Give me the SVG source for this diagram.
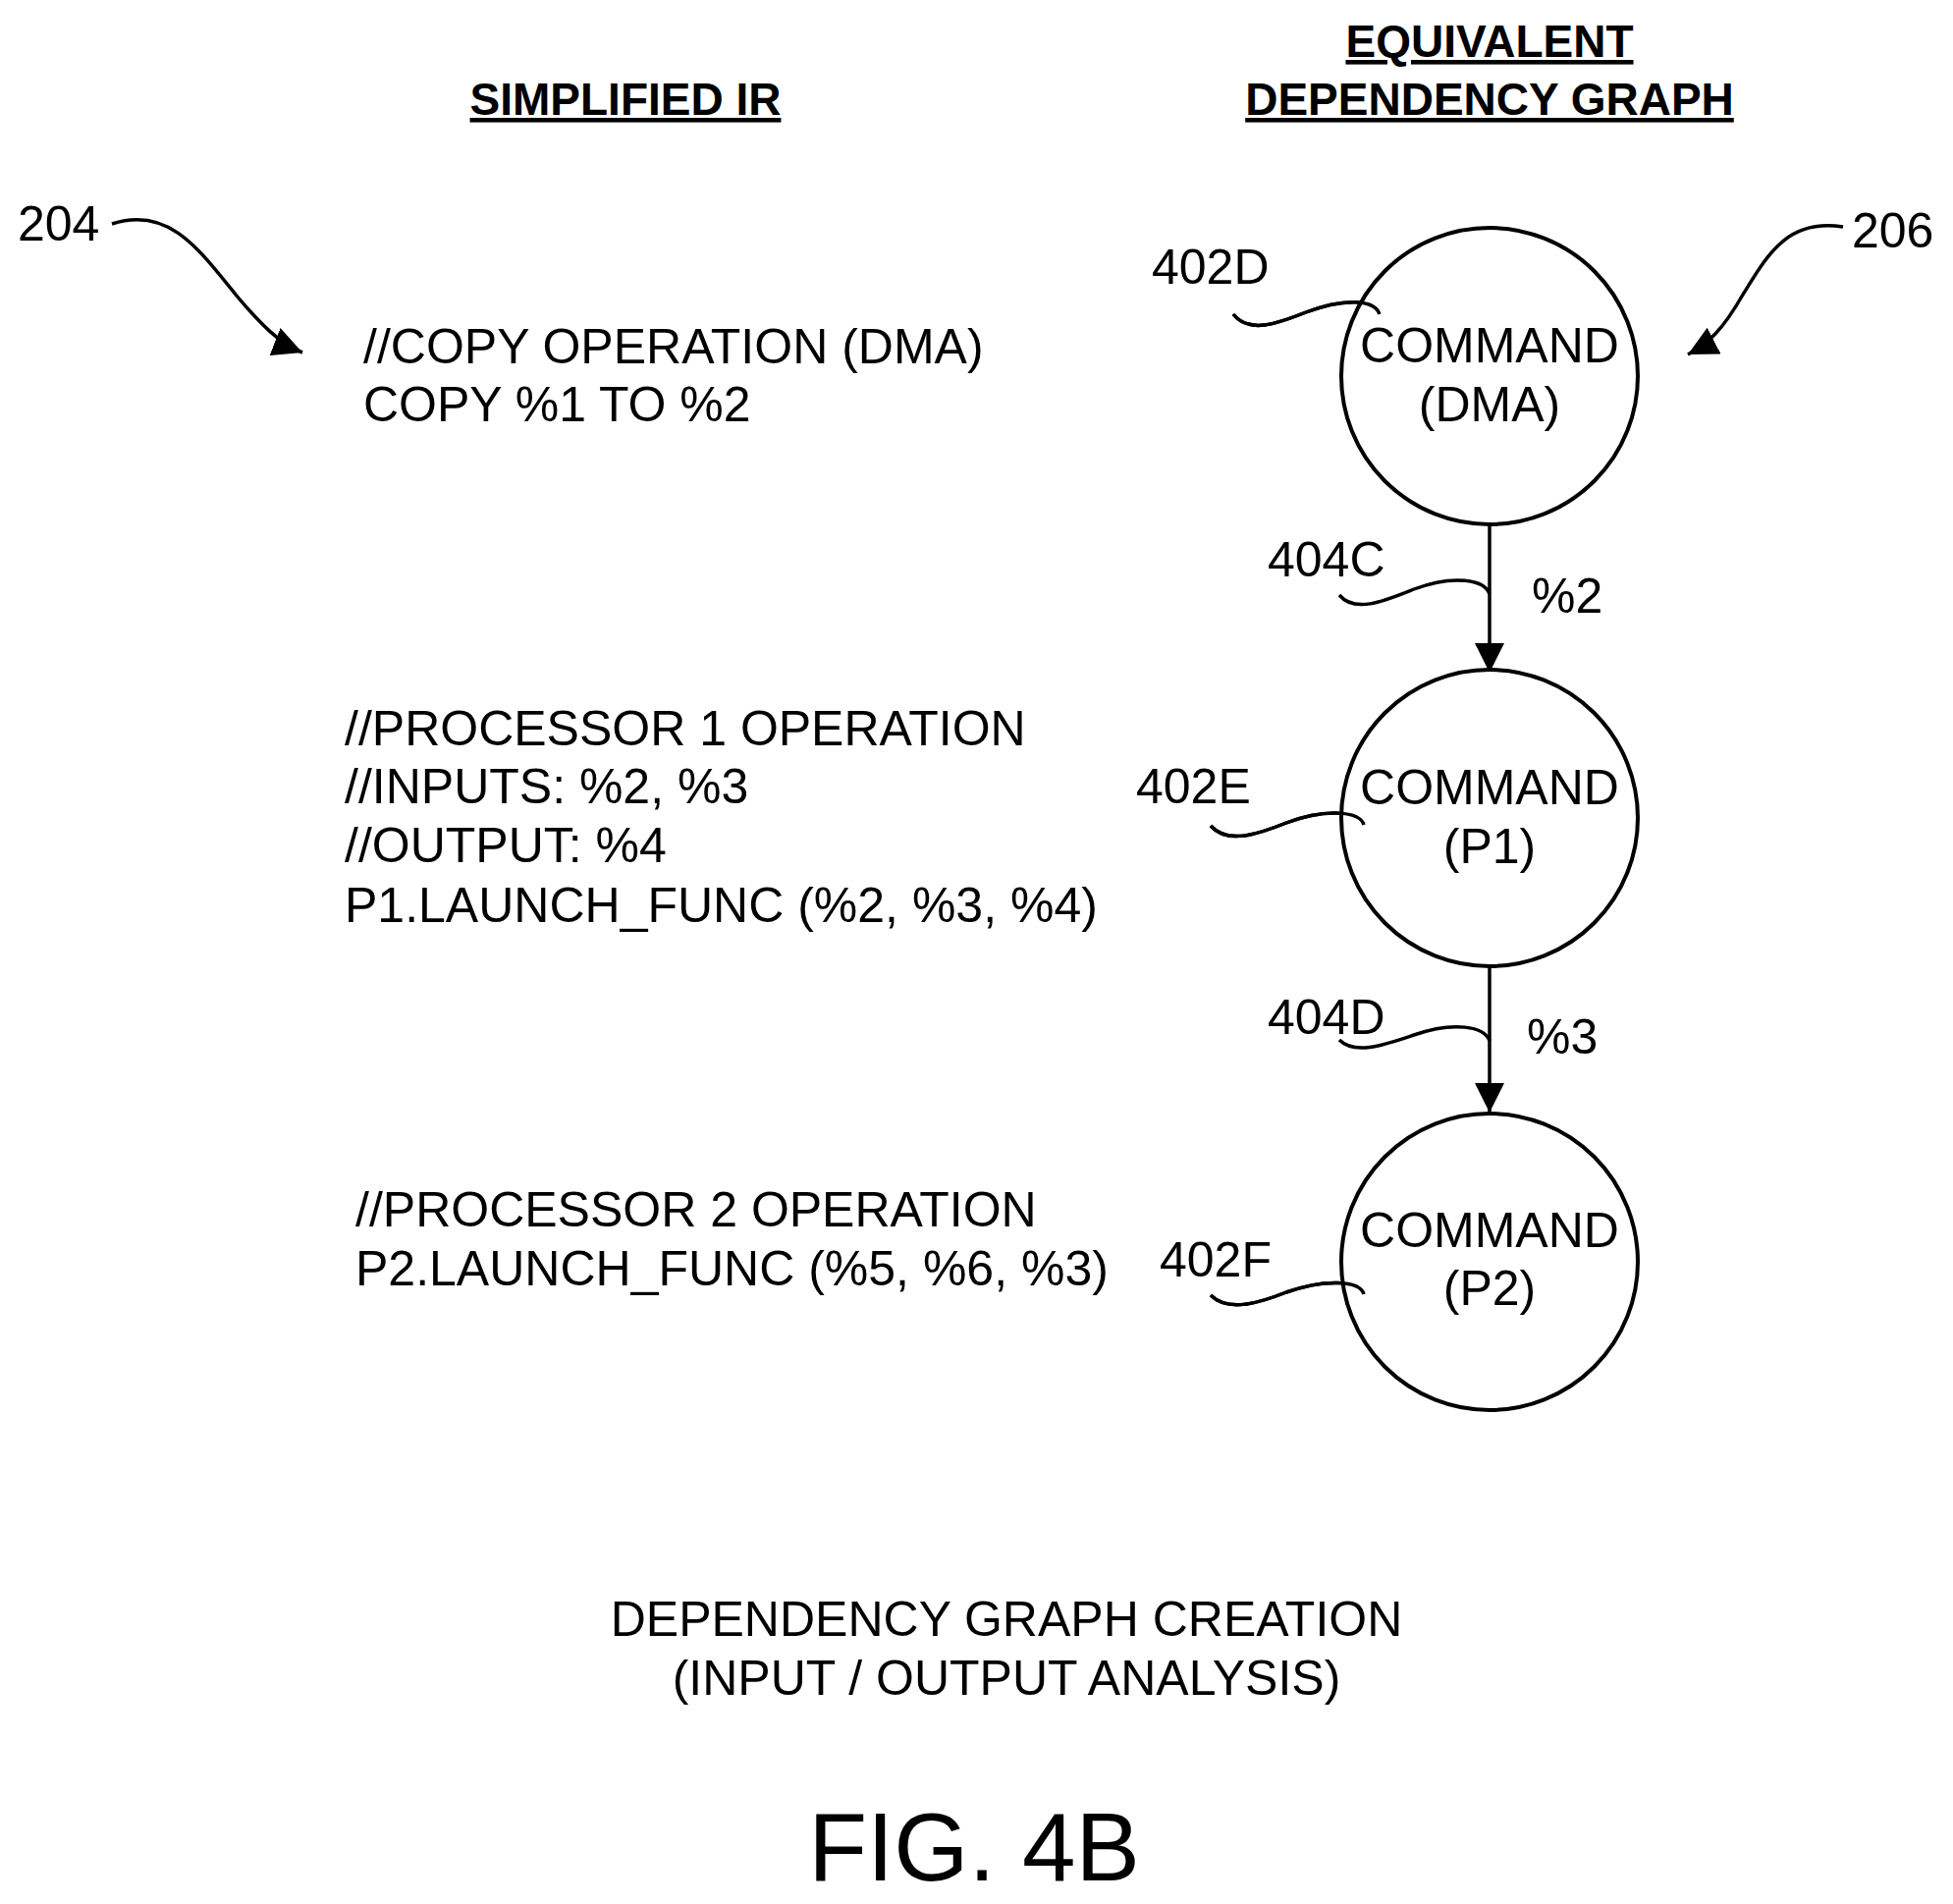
<svg xmlns="http://www.w3.org/2000/svg" width="1989" height="1939" viewBox="0 0 1989 1939">
<defs>
<style>
text{font-family:"Liberation Sans",Arial,sans-serif;fill:#000}
.t{font-size:50px}
.c{font-size:50px;text-anchor:middle}
.h{font-size:46px;font-weight:bold;text-anchor:middle;text-decoration:underline}
.n{fill:#fff;stroke:#000;stroke-width:4}
.l{fill:none;stroke:#000;stroke-width:3.5}
</style>
<marker id="ah" viewBox="0 0 10 10" refX="10" refY="5" markerWidth="9" markerHeight="9" markerUnits="userSpaceOnUse" orient="auto" overflow="visible">
<path d="M0,0 L30,15 L0,30 Z" transform="translate(-20,-10)"/>
</marker>
<marker id="ah2" viewBox="0 0 30 30" refX="30" refY="15" markerWidth="30" markerHeight="30" markerUnits="userSpaceOnUse" orient="auto">
<path d="M0,0 L30,15 L0,30 Z"/>
</marker>
</defs>
<rect width="1989" height="1939" fill="#fff"/>
<text class="h" x="637" y="117">SIMPLIFIED IR</text>
<text class="h" x="1517" y="58">EQUIVALENT</text>
<text class="h" x="1517" y="117">DEPENDENCY GRAPH</text>
<text class="t" x="370" y="370">//COPY OPERATION (DMA)</text>
<text class="t" x="370" y="429">COPY %1 TO %2</text>
<text class="t" x="351" y="759">//PROCESSOR 1 OPERATION</text>
<text class="t" x="351" y="818">//INPUTS: %2, %3</text>
<text class="t" x="351" y="878">//OUTPUT: %4</text>
<text class="t" x="351" y="939">P1.LAUNCH_FUNC (%2, %3, %4)</text>
<text class="t" x="362" y="1249">//PROCESSOR 2 OPERATION</text>
<text class="t" x="362" y="1309">P2.LAUNCH_FUNC (%5, %6, %3)</text>
<g id="connectors">
<line class="l" x1="1517" y1="534" x2="1517" y2="685" marker-end="url(#ah2)"/>
<line class="l" x1="1517" y1="983" x2="1517" y2="1133" marker-end="url(#ah2)"/>
<path class="l" d="M114,228 C170,210 200,250 240,300 C265,330 285,350 308,359" marker-end="url(#ah2)"/>
<path class="l" d="M1877,231 C1820,222 1800,260 1775,300 C1755,335 1740,350 1719,361" marker-end="url(#ah2)"/>
<path class="l" d="M1364,606 C1380,625 1410,612 1440,600 C1480,585 1512,590 1517,605"/>
<path class="l" d="M1364,1059 C1380,1075 1410,1064 1440,1054 C1480,1040 1512,1045 1517,1060"/>
<path class="l" d="M1256,320 C1272,340 1300,330 1330,318 C1370,303 1400,305 1405,320"/>
<path class="l" d="M1233,841 C1250,860 1280,850 1310,838 C1350,823 1385,826 1389,840"/>
<path class="l" d="M1233,1319 C1250,1336 1280,1328 1310,1316 C1350,1302 1385,1304 1389,1318"/>
</g>
<g id="n1"><circle class="n" cx="1517" cy="383" r="151"/><text class="c" x="1517" y="369">COMMAND</text><text class="c" x="1517" y="429">(DMA)</text></g>
<g id="n2"><circle class="n" cx="1517" cy="833" r="151"/><text class="c" x="1517" y="819">COMMAND</text><text class="c" x="1517" y="879">(P1)</text></g>
<g id="n3"><circle class="n" cx="1517" cy="1285" r="151"/><text class="c" x="1517" y="1270">COMMAND</text><text class="c" x="1517" y="1329">(P2)</text></g>
<path class="l" d="M1256,320 C1272,340 1300,330 1330,318 C1370,303 1400,305 1405,320"/>
<path class="l" d="M1233,841 C1250,860 1280,850 1310,838 C1350,823 1385,826 1389,840"/>
<path class="l" d="M1233,1319 C1250,1336 1280,1328 1310,1316 C1350,1302 1385,1304 1389,1318"/>
<text class="t" x="1560" y="624">%2</text>
<text class="t" x="1555" y="1073">%3</text>
<text class="t" x="1291" y="587">404C</text>
<text class="t" x="1291" y="1053">404D</text>
<text class="t" x="1173" y="289">402D</text>
<text class="t" x="1157" y="818">402E</text>
<text class="t" x="1181" y="1300">402F</text>
<text class="t" x="18" y="245">204</text>
<text class="t" x="1886" y="252">206</text>
<text class="c" x="1025" y="1666">DEPENDENCY GRAPH CREATION</text>
<text class="c" x="1025" y="1726">(INPUT / OUTPUT ANALYSIS)</text>
<text x="992" y="1915" style="font-size:98px;text-anchor:middle">FIG. 4B</text>
</svg>
